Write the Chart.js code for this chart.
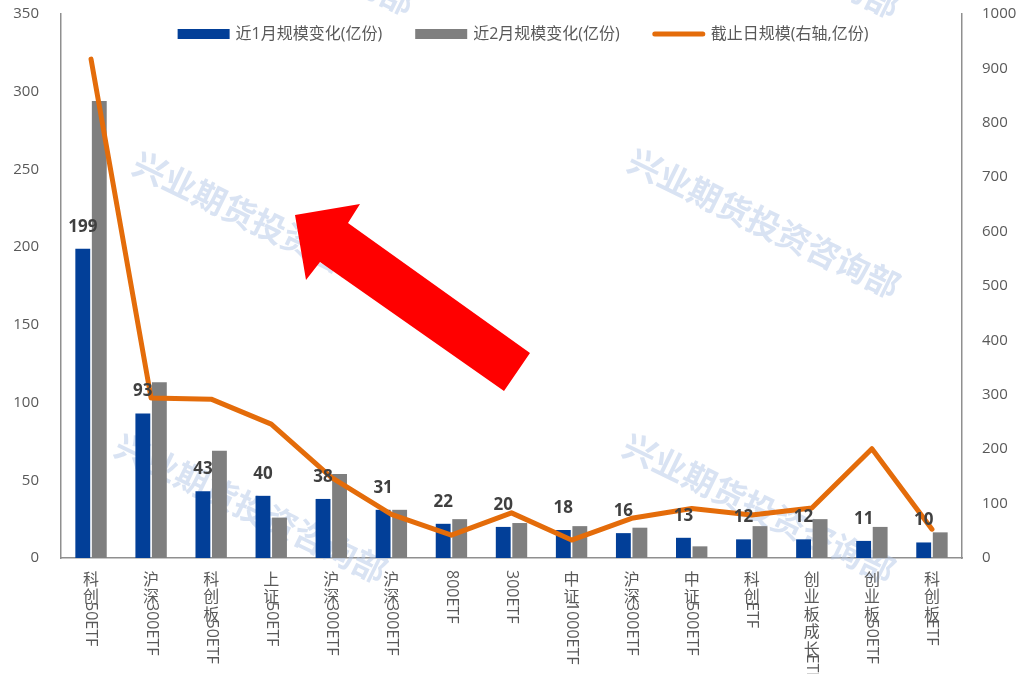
<!DOCTYPE html>
<html>
<head>
<meta charset="utf-8">
<script src="https://cdn.jsdelivr.net/npm/chart.js@4.4.0/dist/chart.umd.min.js"></script>
<style>
  html, body { margin: 0; padding: 0; background: #fff; }
</style>
</head>
<body>
<canvas id="myChart" width="1020" height="674"></canvas>
<script>
const categories = ['科创50ETF', '沪深300ETF', '科创板50ETF', '上证50ETF', '沪深300ETF', '沪深300ETF', '800ETF', '300ETF',
    '中证1000ETF', '沪深300ETF', '中证500ETF', '科创ETF', '创业板成长ETF', '创业板50ETF', '科创板ETF'];
const change1m = [199, 93, 43, 40, 38, 31, 22, 20, 18, 16, 13, 12, 12, 11, 10];
const change2m = [294, 113, 69, 26, 54, 31, 25, 22.5, 20.5, 19.5, 7.5, 20.5, 25, 20, 16.5];
const sizeNow = [917, 294, 292, 246, 148, 80, 42, 83, 33, 73, 91, 79, 92, 201, 53];
const seriesNames = ['近1月规模变化(亿份)', '近2月规模变化(亿份)', '截止日规模(右轴,亿份)'];
const watermark = '兴业期货投资咨询部';

const BLUE = '#023f98';
const GRAY = '#7f7f7f';
const ORANGE = '#e46c0a';
const TXT = '#595959';
const FONT = "'Open Sans', 'Noto Sans CJK SC', sans-serif";
const CJK = "'Noto Sans CJK SC', sans-serif";

// faint diagonal stamp behind the series
const watermarkPlugin = {
    id: 'wm',
    beforeDatasetsDraw(chart) {
        const ctx = chart.ctx;
        const spots = [[160, -118], [150, 168], [132, 450], [645, -115], [645, 165], [640, 450]];
        ctx.save();
        ctx.fillStyle = 'rgba(180,199,231,0.5)';
        ctx.font = 'bold 33px ' + CJK;
        ctx.textBaseline = 'middle';
        ctx.textAlign = 'left';
        spots.forEach(([x, y]) => {
            ctx.save();
            ctx.translate(x, y);
            ctx.rotate(26 * Math.PI / 180);
            ctx.fillText(watermark, -16, 0);
            ctx.restore();
        });
        ctx.restore();
    }
};

// value labels above the blue bars, vertical category names, legend, arrow
const decorPlugin = {
    id: 'decor',
    afterDatasetsDraw(chart) {
        const ctx = chart.ctx;
        ctx.save();
        ctx.fillStyle = '#404040';
        ctx.font = 'bold 17px ' + FONT;
        ctx.textAlign = 'center';
        ctx.textBaseline = 'alphabetic';
        chart.getDatasetMeta(0).data.forEach((bar, i) => {
            ctx.fillText(String(change1m[i]), bar.x, bar.y - 17);
        });
        ctx.restore();
    },
    afterDraw(chart) {
        const ctx = chart.ctx;
        const xs = chart.scales.x;
        const top = chart.chartArea.bottom + 14;

        // x labels: chinese characters stacked upright, latin part turned sideways
        ctx.save();
        ctx.fillStyle = TXT;
        ctx.font = '16px ' + FONT;
        categories.forEach((name, i) => {
            const x = xs.getPixelForTick(i);
            const han = name.match(/^[\u4e00-\u9fff]*/)[0];
            const rest = name.slice(han.length);
            let y = top;
            ctx.textAlign = 'center';
            ctx.textBaseline = 'top';
            for (const ch of han) {
                ctx.fillText(ch, x, y);
                y += 17.5;
            }
            if (rest) {
                ctx.save();
                ctx.translate(x, han.length ? y - 5 : y - 2);
                ctx.rotate(Math.PI / 2);
                ctx.textAlign = 'left';
                ctx.textBaseline = 'middle';
                ctx.fillText(rest, 0, 0);
                ctx.restore();
            }
        });
        ctx.restore();

        // legend
        ctx.save();
        ctx.font = '16px ' + FONT;
        ctx.textBaseline = 'middle';
        ctx.textAlign = 'left';
        const boxW = 52, gap = 6, spacing = 33, ly = 34;
        const widths = seriesNames.map(s => boxW + gap + ctx.measureText(s).width);
        const total = widths.reduce((a, b) => a + b, 0) + spacing * (widths.length - 1);
        let lx = 523 - total / 2;
        const colors = [BLUE, GRAY, ORANGE];
        seriesNames.forEach((s, i) => {
            if (i < 2) {
                ctx.fillStyle = colors[i];
                ctx.fillRect(lx, ly - 5, boxW, 10);
            } else {
                ctx.strokeStyle = colors[i];
                ctx.lineWidth = 5;
                ctx.lineCap = 'round';
                ctx.beginPath();
                ctx.moveTo(lx + 2, ly);
                ctx.lineTo(lx + boxW - 2, ly);
                ctx.stroke();
            }
            ctx.fillStyle = TXT;
            ctx.fillText(s, lx + boxW + gap, ly);
            lx += widths[i] + spacing;
        });
        ctx.restore();

        // red block arrow
        ctx.save();
        ctx.fillStyle = '#ff0000';
        ctx.beginPath();
        const pts = [[295, 215], [360, 204], [348, 223], [530, 353], [504, 391], [320, 262], [306, 280]];
        pts.forEach(([px, py], i) => i ? ctx.lineTo(px, py) : ctx.moveTo(px, py));
        ctx.closePath();
        ctx.fill();
        ctx.restore();
    }
};

// fixed axis widths, no extra room reserved for half tick labels
function fixAxis(width) {
    return s => {
        s.width = width;
        s.paddingTop = 0;
        s.paddingBottom = 0;
    };
}

new Chart(document.getElementById('myChart'), {
    type: 'bar',
    data: {
        labels: categories,
        datasets: [{
            label: seriesNames[0],
            data: change1m,
            backgroundColor: BLUE,
            borderWidth: 0,
            yAxisID: 'y',
            order: 1
        }, {
            label: seriesNames[1],
            data: change2m,
            backgroundColor: GRAY,
            borderWidth: 0,
            yAxisID: 'y',
            order: 1
        }, {
            type: 'line',
            label: seriesNames[2],
            data: sizeNow,
            borderColor: ORANGE,
            backgroundColor: ORANGE,
            borderWidth: 5,
            borderJoinStyle: 'round',
            borderCapStyle: 'round',
            pointRadius: 0,
            tension: 0,
            yAxisID: 'y2',
            order: 0
        }]
    },
    options: {
        responsive: false,
        animation: false,
        devicePixelRatio: 1,
        layout: { padding: { top: 14, bottom: 116, left: 0, right: 0 } },
        categoryPercentage: 0.55,
        barPercentage: 0.9,
        plugins: {
            legend: { display: false },
            tooltip: { enabled: false }
        },
        scales: {
            x: {
                grid: { display: false, drawTicks: false },
                border: { color: '#8f8f8f', width: 1.5 },
                ticks: { display: false }
            },
            y: {
                position: 'left',
                min: 0,
                max: 350,
                grid: { display: false, drawTicks: false },
                border: { color: '#8f8f8f', width: 1.5 },
                ticks: { stepSize: 50, color: TXT, font: { family: FONT, size: 15 }, padding: 22 },
                afterFit: fixAxis(61)
            },
            y2: {
                position: 'right',
                min: 0,
                max: 1000,
                grid: { display: false, drawTicks: false },
                border: { color: '#8f8f8f', width: 1.5 },
                ticks: { stepSize: 100, color: TXT, font: { family: FONT, size: 15 }, padding: 20, callback: v => String(v) },
                afterFit: fixAxis(58)
            }
        }
    },
    plugins: [watermarkPlugin, decorPlugin]
});
</script>
</body>
</html>
